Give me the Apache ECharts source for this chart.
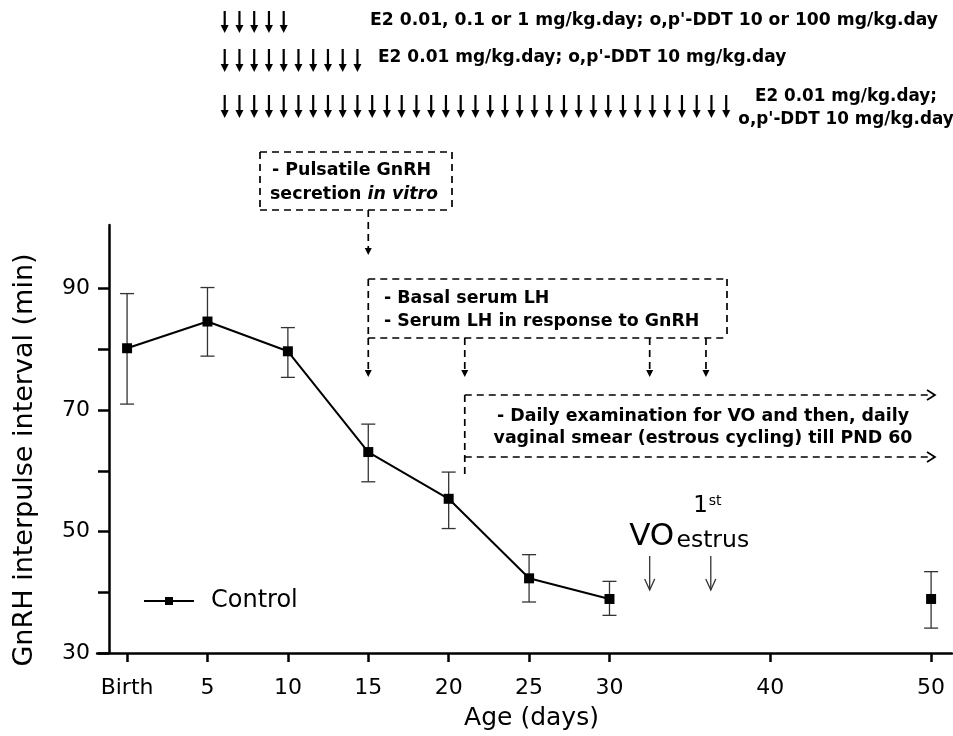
<!DOCTYPE html>
<html>
<head>
<meta charset="utf-8">
<script src="https://cdn.jsdelivr.net/npm/echarts@6/dist/echarts.min.js"></script>
<style>
  html, body { margin: 0; padding: 0; background: #fff; }
  #main { width: 953px; height: 736px; }
</style>
</head>
<body>
<div id="main"></div>
<script>
// age (days) and GnRH interpulse interval, mean with error bar ends
var days   = [0, 5, 10, 15, 20, 25, 30, 50];
var means  = [80.2, 84.6, 79.7, 63.1, 55.4, 42.3, 38.9, 38.9];
var upper  = [89.2, 90.2, 83.6, 67.7, 59.8, 46.2, 41.8, 43.4];
var lower  = [71.0, 78.9, 75.4, 58.2, 50.5, 38.4, 36.2, 34.1];

var xTicks  = [0, 5, 10, 15, 20, 25, 30, 40, 50];
var xLabels = ['Birth', '5', '10', '15', '20', '25', '30', '40', '50'];
var yTicks  = [30, 40, 50, 60, 70, 80, 90];
var yLabels = [30, 50, 70, 90];

// treatment schedules (first and last day of daily dosing)
var doseRows = [
  { from: 6, to: 10, text: ["E2 0.01, 0.1 or 1 mg/kg.day; o,p'-DDT 10 or 100 mg/kg.day"] },
  { from: 6, to: 15, text: ["E2 0.01 mg/kg.day; o,p'-DDT 10 mg/kg.day"] },
  { from: 6, to: 40, text: ["E2 0.01 mg/kg.day;", "o,p'-DDT 10 mg/kg.day"] }
];
var gnrhDay = 15;
var lhDays = [15, 21, 32.5, 36];
var cyclingStart = 21;
var voDay = 32.5;
var estrusDay = 36.3;

var FONT = '"DejaVu Sans", sans-serif';
var chart = echarts.init(document.getElementById('main'));

var lineData = [], pointData = [], errData = [];
for (var i = 0; i < days.length; i++) {
  if (days[i] <= 30) lineData.push([days[i], means[i]]);
  else pointData.push([days[i], means[i]]);
  errData.push([days[i], lower[i], upper[i]]);
}

var option = {
  animation: false,
  grid: { left: 97, right: 1, top: 225, bottom: 81 },
  xAxis: {
    type: 'value', min: -1.87, max: 51.3,
    name: 'Age (days)', nameLocation: 'middle', nameGap: 53,
    nameTextStyle: { fontFamily: FONT, fontSize: 25, color: '#000', padding: [0, 0, 0, 14] },
    axisLine: { lineStyle: { color: '#000', width: 2.5 } },
    axisTick: { customValues: xTicks, length: 9, lineStyle: { width: 2.5, color: '#000' } },
    axisLabel: {
      customValues: xTicks, margin: 24, fontFamily: FONT, fontSize: 22, color: '#000',
      formatter: function (v) { return xLabels[xTicks.indexOf(v)]; }
    },
    splitLine: { show: false }
  },
  yAxis: {
    type: 'value', min: 30, max: 100.5, offset: -12,
    name: 'GnRH interpulse interval (min)', nameLocation: 'middle', nameGap: 71,
    nameTextStyle: { fontFamily: FONT, fontSize: 27, color: '#000', padding: [0, 42, 0, 0] },
    axisLine: { show: true, onZero: false, lineStyle: { color: '#000', width: 2.5 } },
    axisTick: { show: true, customValues: yTicks, length: 11, lineStyle: { width: 2.5, color: '#000' } },
    axisLabel: { customValues: yLabels, margin: 19, fontFamily: FONT, fontSize: 22, color: '#000' },
    splitLine: { show: false }
  },
  legend: {
    left: 143, top: 589, padding: 0, itemWidth: 50, itemHeight: 10,
    textStyle: { fontFamily: FONT, fontSize: 24, color: '#000', padding: [0, 0, 0, 12] },
    data: ['Control']
  },
  series: [
    {
      type: 'custom', name: 'err', silent: true, z: 1,
      renderItem: function (params, api) {
        var x = api.coord([api.value(0), api.value(1)])[0];
        var lo = api.coord([api.value(0), api.value(1)])[1];
        var hi = api.coord([api.value(0), api.value(2)])[1];
        var st = { stroke: '#333', lineWidth: 1.3 };
        return {
          type: 'group', children: [
            { type: 'line', shape: { x1: x, y1: lo, x2: x, y2: hi }, style: st },
            { type: 'line', shape: { x1: x - 7, y1: lo, x2: x + 7, y2: lo }, style: st },
            { type: 'line', shape: { x1: x - 7, y1: hi, x2: x + 7, y2: hi }, style: st }
          ]
        };
      },
      encode: { x: 0, y: [1, 2] },
      data: errData
    },
    {
      type: 'line', name: 'Control', z: 3,
      symbol: 'rect', symbolSize: 10,
      lineStyle: { color: '#000', width: 2 },
      itemStyle: { color: '#000' },
      data: lineData
    },
    {
      type: 'scatter', name: 'Control50', z: 3,
      symbol: 'rect', symbolSize: 10,
      itemStyle: { color: '#000', opacity: 1 },
      data: pointData
    }
  ]
};
chart.setOption(option);

function px(d) { return chart.convertToPixel({ xAxisIndex: 0 }, d); }

var g = [];
var dash = { stroke: '#000', lineWidth: 1.7, lineDash: [7, 5] };
function dline(x1, y1, x2, y2) {
  g.push({ type: 'line', shape: { x1: x1, y1: y1, x2: x2, y2: y2 }, style: dash });
}
function head(x, y, w, h) {
  g.push({ type: 'polygon', shape: { points: [[x - w, y - h], [x + w, y - h], [x, y]] }, style: { fill: '#000' } });
}
function solidArrow(x, y1, y2) {
  g.push({ type: 'line', shape: { x1: x, y1: y1, x2: x, y2: y2 - 5 }, style: { stroke: '#000', lineWidth: 2.2 } });
  head(x, y2, 4, 8);
}
function dashArrow(x, y1, y2) {
  dline(x, y1, x, y2 - 6);
  head(x, y2, 3.5, 7);
}
function openArrowDown(x, y1, y2) {
  var st = { stroke: '#333', lineWidth: 1.3 };
  g.push({ type: 'line', shape: { x1: x, y1: y1, x2: x, y2: y2 }, style: st });
  g.push({ type: 'polyline', shape: { points: [[x - 5, y2 - 11], [x, y2], [x + 5, y2 - 11]] }, style: st });
}
function text(x, y, s, size, align, weight) {
  g.push({ type: 'text', x: x, y: y, style: { text: s, fill: '#000', font: (weight || 'bold') + ' ' + size + 'px ' + FONT, textAlign: align || 'left', textVerticalAlign: 'middle' } });
}

// daily dosing arrows
var rowY = [[11, 33], [49, 72], [95, 118]];
var step = 14.75, x0 = 224.7;
doseRows.forEach(function (r, k) {
  var n = r.to - r.from + 1;
  for (var j = 0; j < n; j++) solidArrow(x0 + j * step, rowY[k][0], rowY[k][1]);
});
text(370, 21, doseRows[0].text[0], 17.2, 'left');
text(378, 58, doseRows[1].text[0], 17, 'left');
text(846, 97, doseRows[2].text[0], 16.8, 'center');
text(846, 120, doseRows[2].text[1], 16.8, 'center');

// box: pulsatile GnRH secretion
var bx = px(gnrhDay);
dline(260, 152, 452, 152); dline(260, 210, 452, 210);
dline(260, 152, 260, 210); dline(452, 152, 452, 210);
text(272, 170, '- Pulsatile GnRH', 17.4, 'left');
g.push({ type: 'text', x: 270, y: 194, style: {
  text: '{n|secretion }{i|in vitro}', textVerticalAlign: 'middle',
  rich: { n: { font: 'bold 17.4px ' + FONT, fill: '#000' }, i: { font: 'italic bold 17.4px ' + FONT, fill: '#000' } }
} });
dashArrow(bx, 210, 255);

// box: serum LH
var lx = px(lhDays[0]);
dline(lx, 279, 727, 279); dline(lx, 338, 727, 338);
dline(lx, 279, lx, 338); dline(727, 279, 727, 338);
text(384, 298, '- Basal serum LH', 17.4, 'left');
text(384, 321, '- Serum LH in response to GnRH', 17.4, 'left');
lhDays.forEach(function (d) { dashArrow(px(d), 338, 377); });

// box: daily examination
var cx = px(cyclingStart), rx = 935;
dline(cx, 395, rx, 395); dline(cx, 457, rx, 457);
dline(cx, 395, cx, 476);
[395, 457].forEach(function (y) {
  g.push({ type: 'polyline', shape: { points: [[rx - 8, y - 5], [rx, y], [rx - 8, y + 5]] }, style: { stroke: '#000', lineWidth: 1.7 } });
});
text(703, 416, '- Daily examination for VO and then, daily', 17.4, 'center');
text(703, 438, 'vaginal smear (estrous cycling) till PND 60', 17.4, 'center');

// VO and first estrus
var vx = px(voDay), ex = px(estrusDay);
text(vx + 2, 537, 'VO', 31, 'center', 'normal');
text(ex - 3, 506, '1', 23, 'right', 'normal');
text(ex - 2, 501, 'st', 14, 'left', 'normal');
text(ex + 2, 541, 'estrus', 23.5, 'center', 'normal');
openArrowDown(vx, 556, 590);
openArrowDown(ex, 556, 590);

chart.setOption({ graphic: g });
</script>
</body>
</html>
